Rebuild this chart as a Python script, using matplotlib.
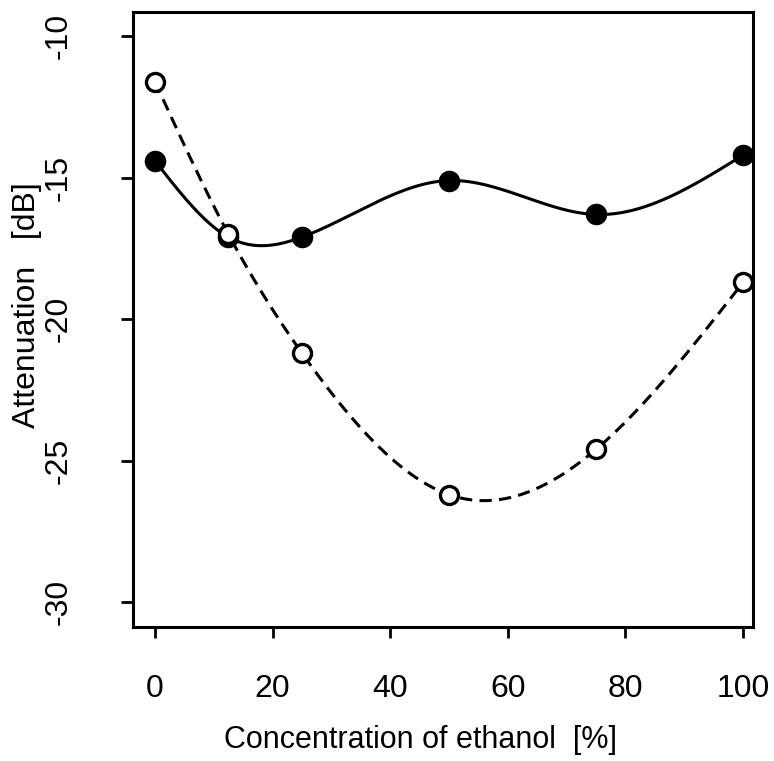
import numpy as np
import matplotlib
matplotlib.use('Agg')
import matplotlib.pyplot as plt

plt.rcParams['font.family'] = ['Liberation Sans', 'DejaVu Sans']
plt.rcParams['axes.unicode_minus'] = False

#> values
conc = [0, 12.5, 25, 50, 75, 100]
atten_filled = [-14.4, -17.1, -17.1, -15.1, -16.3, -14.2]
atten_open = [-11.6, -17.0, -21.2, -26.2, -24.6, -18.7]


def natural_spline(x, y, n=300):
    # plain natural cubic spline, only used to draw the smooth connecting line
    x = np.asarray(x, float)
    y = np.asarray(y, float)
    k = len(x)
    h = np.diff(x)
    A = np.zeros((k, k))
    r = np.zeros(k)
    A[0, 0] = 1
    A[-1, -1] = 1
    for i in range(1, k - 1):
        A[i, i - 1] = h[i - 1]
        A[i, i] = 2 * (h[i - 1] + h[i])
        A[i, i + 1] = h[i]
        r[i] = 3 * ((y[i + 1] - y[i]) / h[i] - (y[i] - y[i - 1]) / h[i - 1])
    c = np.linalg.solve(A, r)
    xs = np.linspace(x[0], x[-1], n)
    idx = np.clip(np.searchsorted(x, xs) - 1, 0, k - 2)
    b = (y[1:] - y[:-1]) / h - h * (2 * c[:-1] + c[1:]) / 3
    d = (c[1:] - c[:-1]) / (3 * h)
    dx = xs - x[idx]
    ys = y[idx] + b[idx] * dx + c[idx] * dx ** 2 + d[idx] * dx ** 3
    return xs, ys


fig = plt.figure(figsize=(7.74, 7.61), dpi=100)
ax = fig.add_axes([0.172, 0.176, 0.801, 0.808])

xs, ys = natural_spline(conc, atten_filled)
ax.plot(xs, ys, color='black', lw=2.2, zorder=2)
xs, ys = natural_spline(conc, atten_open)
ax.plot(xs, ys, color='black', lw=2.2, ls=(0, (4, 2.4)), zorder=2)

ax.plot(conc, atten_filled, 'o', color='black', ms=14.5, zorder=3)
ax.plot(conc, atten_open, 'o', mfc='white', mec='black', mew=2.4, ms=13, zorder=3)

ax.set_xlim(-3.7, 101.7)
ax.set_ylim(-30.88, -9.15)
ax.set_xticks([0, 20, 40, 60, 80, 100])
ax.set_yticks([-30, -25, -20, -15, -10])

for s in ax.spines.values():
    s.set_linewidth(2.2)

ax.tick_params(axis='x', direction='out', length=8, width=2, pad=26, labelsize=23)
ax.tick_params(axis='y', direction='out', length=9, width=2, pad=34, labelsize=23)
for lab in ax.get_yticklabels():
    lab.set_rotation(90)
    lab.set_va('center')

ax.set_xlabel('Concentration of ethanol  [%]', fontsize=22)
ax.set_ylabel('Attenuation   [dB]', fontsize=23)
ax.xaxis.set_label_coords(0.463, -0.16)
ax.yaxis.set_label_coords(-0.147, 0.524)

plt.savefig('out.png', dpi=100)
